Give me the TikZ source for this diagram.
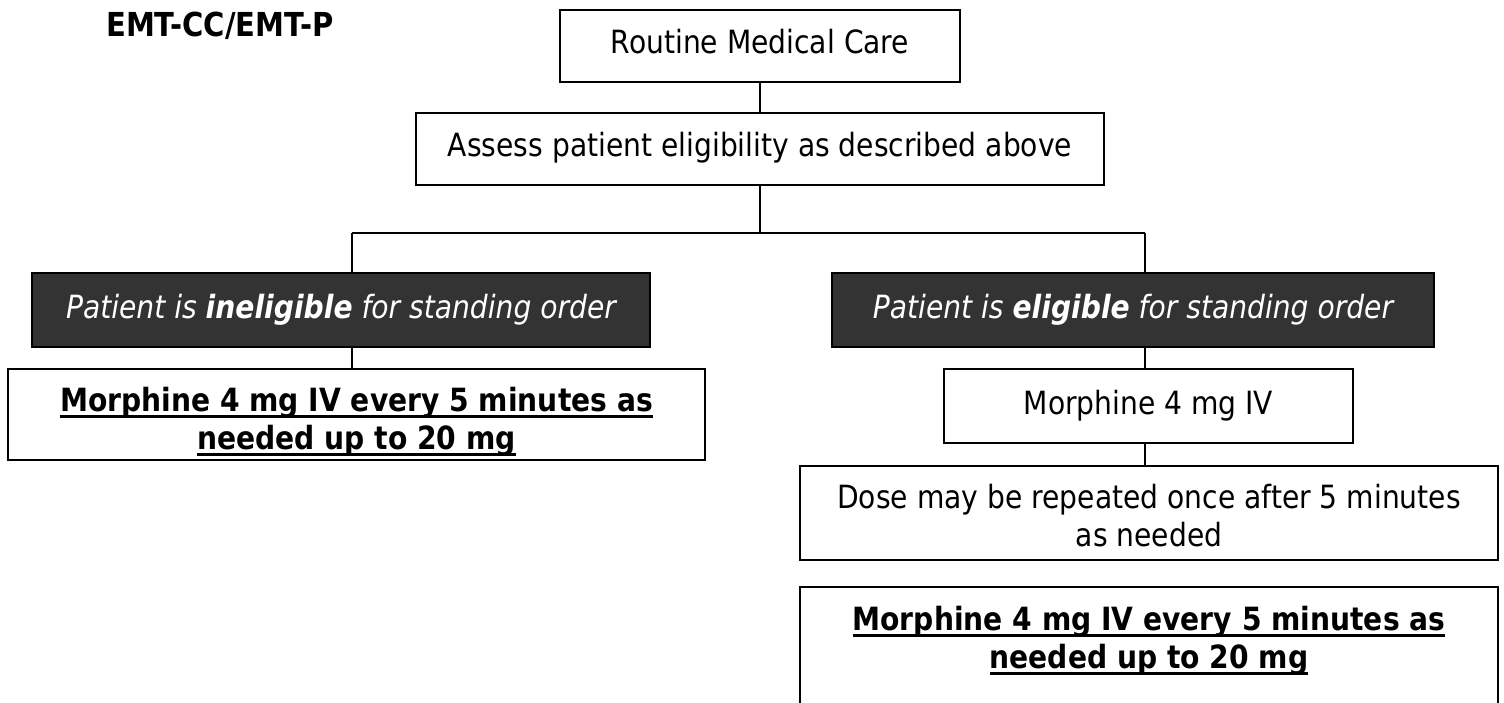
\documentclass[tikz,border=0pt]{standalone}
\usepackage{fontspec}
\setmainfont{DejaVu Sans}[FakeStretch=0.88]
\definecolor{darkfill}{RGB}{51,51,51}
\newcommand{\myul}[1]{\setbox0\hbox{#1}\rlap{\rule[-6.2pt]{\wd0}{2.4pt}}\box0}
\begin{document}
\begin{tikzpicture}[x=1pt,y=-1pt,
  box/.style={draw, line width=2.2pt, inner sep=0pt, font=\fontsize{32}{38}\selectfont, text height=23pt, text depth=7pt},
  dbox/.style={box, fill=darkfill, text=white, font=\fontsize{32}{38}\selectfont\itshape},
  plainbox/.style={draw, line width=2.2pt, inner sep=0pt},
  txt/.style={inner sep=0pt, align=center, anchor=north, yshift=-19pt},
  btxt/.style={txt, font=\fontsize{32}{38}\selectfont\bfseries},
  rtxt/.style={txt, font=\fontsize{32}{38}\selectfont},
  conn/.style={line width=2pt}]
\useasboundingbox (0,0) rectangle (1504,703);
\node[anchor=base west, inner sep=0pt, font=\fontsize{33}{40}\selectfont\bfseries] (title) at (106,37) {EMT-CC/EMT-P};
\node[box, minimum width=400pt, minimum height=72pt] (routine) at (760,46) {Routine Medical Care};
\node[box, minimum width=688pt, minimum height=72pt] (assess) at (760,149) {Assess patient eligibility as described above};
\node[dbox, minimum width=618pt, minimum height=74pt] (inel) at (341,310) {Patient is \textbf{ineligible} for standing order};
\node[dbox, minimum width=602pt, minimum height=74pt] (elig) at (1133,310) {Patient is \textbf{eligible} for standing order};
\node[plainbox, minimum width=697pt, minimum height=91pt] (morphL) at (356.5,414.5) {};
\node[btxt] (morphLt) at (morphL.north) {\myul{Morphine 4 mg IV every 5 minutes as}\\\myul{needed up to 20 mg}};
\node[box, minimum width=409pt, minimum height=74pt] (morphIV) at (1148.5,406) {Morphine 4 mg IV};
\node[plainbox, minimum width=698pt, minimum height=94pt] (dose) at (1149,513) {};
\node[rtxt] (doset) at (dose.north) {Dose may be repeated once after 5 minutes\\as needed};
\node[inner sep=0pt, minimum width=698pt, minimum height=116pt] (final) at (1149,645) {};
\draw[line width=2.2pt] (final.south west) |- (final.north east) -- (final.south east);
\node[btxt] (finalt) at (final.north) {\myul{Morphine 4 mg IV every 5 minutes as}\\\myul{needed up to 20 mg}};
\coordinate (split) at (760,233);
\coordinate (cl) at (352,233);
\coordinate (cr) at (1145,233);
\draw[conn] (routine.south) -- (assess.north);
\draw[conn] (assess.south) -- (split);
\draw[conn] (cl) -- (cr);
\draw[conn] (cl) -- (cl |- inel.north);
\draw[conn] (cr) -- (cr |- elig.north);
\draw[conn] (inel.south -| cl) -- (morphL.north -| cl);
\draw[conn] (elig.south -| cr) -- (morphIV.north -| cr);
\draw[conn] (morphIV.south -| cr) -- (dose.north -| cr);
\end{tikzpicture}
\end{document}
